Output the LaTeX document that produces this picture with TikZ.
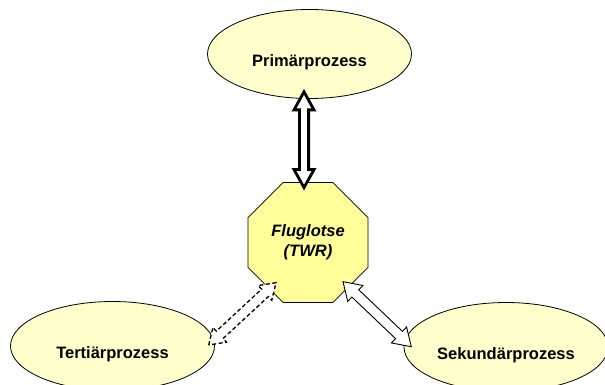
\documentclass[tikz,border=0pt]{standalone}
\usepackage{fontspec}
\setmainfont{Liberation Sans}
\usetikzlibrary{shapes.geometric,calc}
\definecolor{ellfill}{HTML}{FFFFCC}
\definecolor{octfill}{HTML}{FFFF99}
\newcommand{\blockarr}[6]{%
  \draw[#1] (#2)
    -- ($(#2)!#4!(#3)!#5!90:(#3)$)
    -- ($(#2)!#4!(#3)!#6!90:(#3)$)
    -- ($(#3)!#4!(#2)!#6!90:(#3)$)
    -- ($(#3)!#4!(#2)!#5!90:(#3)$)
    -- (#3)
    -- ($(#3)!#4!(#2)!#5!-90:(#3)$)
    -- ($(#3)!#4!(#2)!#6!-90:(#3)$)
    -- ($(#2)!#4!(#3)!#6!-90:(#3)$)
    -- ($(#2)!#4!(#3)!#5!-90:(#3)$)
    -- cycle;}
\begin{document}
\begin{tikzpicture}[x=1pt,y=-1pt,
  proc/.style={ellipse, draw=black, line width=0.8pt, fill=ellfill,
    minimum width=204pt, minimum height=89pt, inner sep=0pt},
  lbl/.style={font=\fontsize{16.5}{20}\selectfont\bfseries, yshift=-8pt},
  octa/.style={regular polygon, regular polygon sides=8, draw=black, line width=0.8pt,
    fill=octfill, minimum size=129.9pt, inner sep=0pt,
    font=\fontsize{16.5}{20}\selectfont\bfseries\itshape, align=center},
  bigarr/.style={draw=black, fill=white, line width=2.8pt, line join=miter},
  dasharr/.style={draw=black, fill=white, line width=1.3pt, dash pattern=on 4pt off 2.5pt, line join=miter},
  solarr/.style={draw=black, fill=white, line width=0.9pt, line join=miter}]
\useasboundingbox (0,0) rectangle (605,385);
\clip (0,0) rectangle (605,385);
\node[proc, label={[lbl]center:Primärprozess}] (prim) at (309.5,54) {};
\node[proc, label={[lbl]center:Tertiärprozess}] (ter) at (112.5,346) {};
\node[proc, label={[lbl]center:Sekundärprozess}] (sek) at (506,347) {};
\node[octa] (twr) at (308,242.5) {Fluglotse\\(TWR)};
\coordinate (a1) at ($(prim.south)+(-5.5,-7)$);
\coordinate (a2) at ($(twr.north)+(-4,5.5)$);
\coordinate (b1) at ($(ter.east)+(-6.2,-1)$);
\coordinate (b2) at ($(twr.center)+(-32,40.2)$);
\coordinate (c1) at ($(twr.center)+(35,39.2)$);
\coordinate (c2) at ($(sek.west)+(7.7,-0.3)$);
\blockarr{bigarr}{a1}{a2}{18pt}{10pt}{4.6pt}
\blockarr{dasharr}{b1}{b2}{15pt}{10pt}{5pt}
\blockarr{solarr}{c1}{c2}{17pt}{11pt}{5pt}
\end{tikzpicture}
\end{document}
